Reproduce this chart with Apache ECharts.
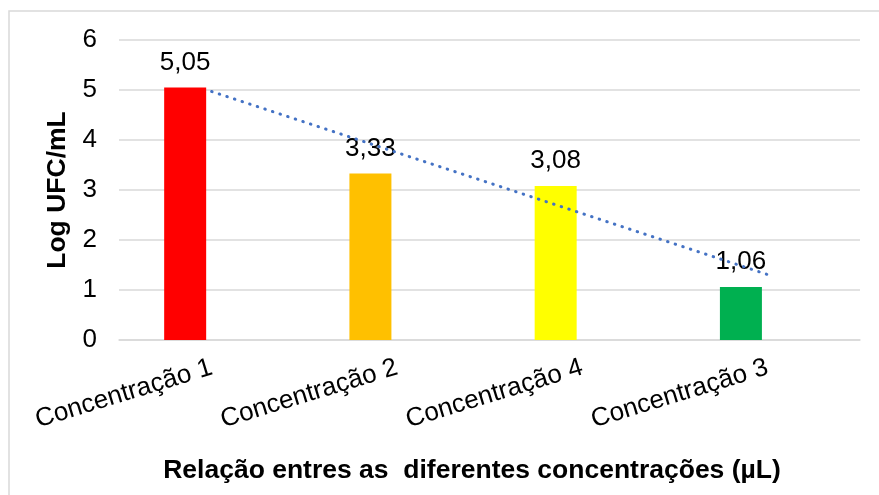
<!DOCTYPE html>
<html>
<head>
<meta charset="utf-8">
<script src="https://cdn.jsdelivr.net/npm/echarts@6/dist/echarts.min.js"></script>
<style>
html,body{margin:0;padding:0;background:#fff;}
#chart{width:879px;height:495px;}
</style>
</head>
<body>
<div id="chart"></div>
<script>
var categories = ['Concentração 1', 'Concentração 2', 'Concentração 4', 'Concentração 3'];
var values = [5.05, 3.33, 3.08, 1.06];
var barColors = ['#FF0000', '#FFC000', '#FFFF00', '#00B050'];
var trendValues = [4.97, 3.75, 2.53, 1.31];
var yTicks = [0, 1, 2, 3, 4, 5, 6];
var yTitle = 'Log UFC/mL';
var xTitle = 'Relação entres as  diferentes concentrações (µL)';

var FONT = '"Liberation Sans", Arial, sans-serif';
var chart = echarts.init(document.getElementById('chart'));
chart.setOption({
  animation: false,
  backgroundColor: '#fff',
  textStyle: { fontFamily: FONT },
  grid: { left: 119, right: 19, top: 40, bottom: 155 },
  graphic: [
    { type: 'rect', shape: { x: 9, y: 11, width: 900, height: 500 },
      style: { fill: 'none', stroke: '#d9d9d9', lineWidth: 1.5 }, z: -10 },
    { type: 'text', x: 472, y: 471,
      style: { text: xTitle, fontFamily: FONT, fontSize: 26.5, fontWeight: 'bold', fill: '#000',
               textAlign: 'center', textVerticalAlign: 'middle' } }
  ],
  xAxis: {
    type: 'category',
    data: categories,
    boundaryGap: true,
    axisLine: { show: true, lineStyle: { color: '#d9d9d9', width: 1.5 } },
    axisTick: { show: false },
    axisLabel: { rotate: 17, margin: 27, fontSize: 26, color: '#000', fontFamily: FONT, interval: 0 }
  },
  yAxis: {
    type: 'value',
    min: yTicks[0], max: yTicks[yTicks.length - 1], interval: 1,
    name: yTitle, nameLocation: 'middle', nameGap: 47,
    nameTextStyle: { fontSize: 26.5, fontWeight: 'bold', color: '#000', fontFamily: FONT },
    axisLine: { show: false },
    axisTick: { show: false },
    axisLabel: { fontSize: 26, color: '#000', margin: 22, fontFamily: FONT },
    splitLine: { lineStyle: { color: '#d9d9d9', width: 1.5 } }
  },
  series: [
    {
      type: 'bar',
      data: values.map(function (v, i) { return { value: v, itemStyle: { color: barColors[i] } }; }),
      barWidth: 42,
      barGap: '26%',
      label: {
        show: true, position: 'top', distance: 12, fontSize: 26, color: '#000', fontFamily: FONT,
        formatter: function (p) { return p.value.toFixed(2).replace('.', ','); }
      },
      z: 2
    },
    {
      type: 'bar',
      data: values.map(function () { return null; }),
      barWidth: 42,
      silent: true
    },
    {
      type: 'line',
      data: trendValues,
      symbol: 'none',
      lineStyle: { color: '#4472C4', width: 3, type: [0.5, 7.5], cap: 'round' },
      z: 3
    }
  ]
});
</script>
</body>
</html>
